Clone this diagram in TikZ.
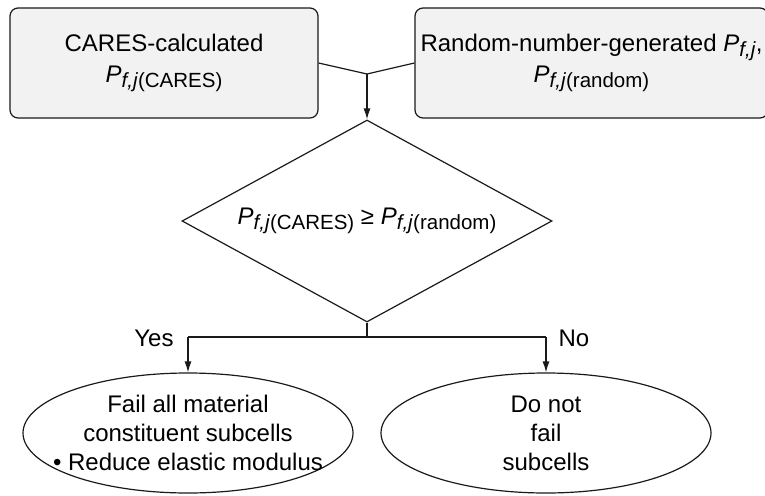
\documentclass[tikz,border=0pt]{standalone}
\usepackage{fontspec}
\setmainfont{Liberation Sans}
\usepackage{tikz}
\usetikzlibrary{arrows.meta,shapes.geometric}
\definecolor{boxGrey}{HTML}{F2F2F2}
\definecolor{lineBlack}{HTML}{1A1A1A}
\newcommand{\Psub}[1]{\textit{P}\raisebox{-4.5pt}{\fontsize{20.5}{20.5}\selectfont #1}}
\tikzset{
  inputbox/.style={rectangle, rounded corners=8pt, draw=lineBlack, fill=boxGrey, line width=1.2pt, align=center, font=\fontsize{24}{31}\selectfont, minimum height=110pt, inner sep=0pt},
  decisionbox/.style={diamond, aspect=1.83, draw=lineBlack, line width=1.2pt, align=center, font=\fontsize{24}{29}\selectfont, minimum width=370pt, minimum height=202pt, inner sep=0pt},
  outcomebox/.style={ellipse, draw=lineBlack, line width=1.2pt, align=center, font=\fontsize{24}{29}\selectfont, minimum width=330pt, minimum height=120pt, inner ysep=0pt, inner xsep=-45pt},
  flowline/.style={line width=1.2pt, draw=lineBlack},
  flowarrow/.style={-{Latex[length=11pt,width=7pt]}, line width=1.2pt, draw=lineBlack},
  branchlabel/.style={font=\fontsize{24}{24}\selectfont, inner sep=1pt},
}
\begin{document}
\begin{tikzpicture}[x=1pt,y=-1pt]
  \clip (0,0) rectangle (765,495);
  \node[inputbox, minimum width=308pt] (cares) at (164,63) {CARES-calculated\\\Psub{\textit{f,j}(CARES)}};
  \node[inputbox, minimum width=353pt] (random) at (591.5,63) {Random-number-generated \Psub{\textit{f,j}},\\\Psub{\textit{f,j}(random)}};
  \coordinate (merge) at (367,74);

  \node[decisionbox] (check) at (367,221) {\Psub{\textit{f,j}(CARES)} ≥ \Psub{\textit{f,j}(random)}};
  \coordinate (split) at (367,337);

  \node[outcomebox] (fail) at (188,433) {Fail all material\\constituent subcells\\\textbullet{} Reduce elastic modulus};
  \node[outcomebox] (nofail) at (546,433) {Do not\\fail\\subcells};
  \node[branchlabel] (yes) at (154,338) {Yes};
  \node[branchlabel] (no) at (574,338) {No};

  \draw[flowline] (cares.east) -- (merge) -- (random.west);
  \draw[flowarrow] (merge) -- (check.north);
  \draw[flowline] (check.south) -- (split);
  \draw[flowline] (fail.north |- split) -- (nofail.north |- split);
  \foreach \c in {fail,nofail} { \draw[flowarrow] (\c.north |- split) -- (\c.north); }
\end{tikzpicture}
\end{document}
